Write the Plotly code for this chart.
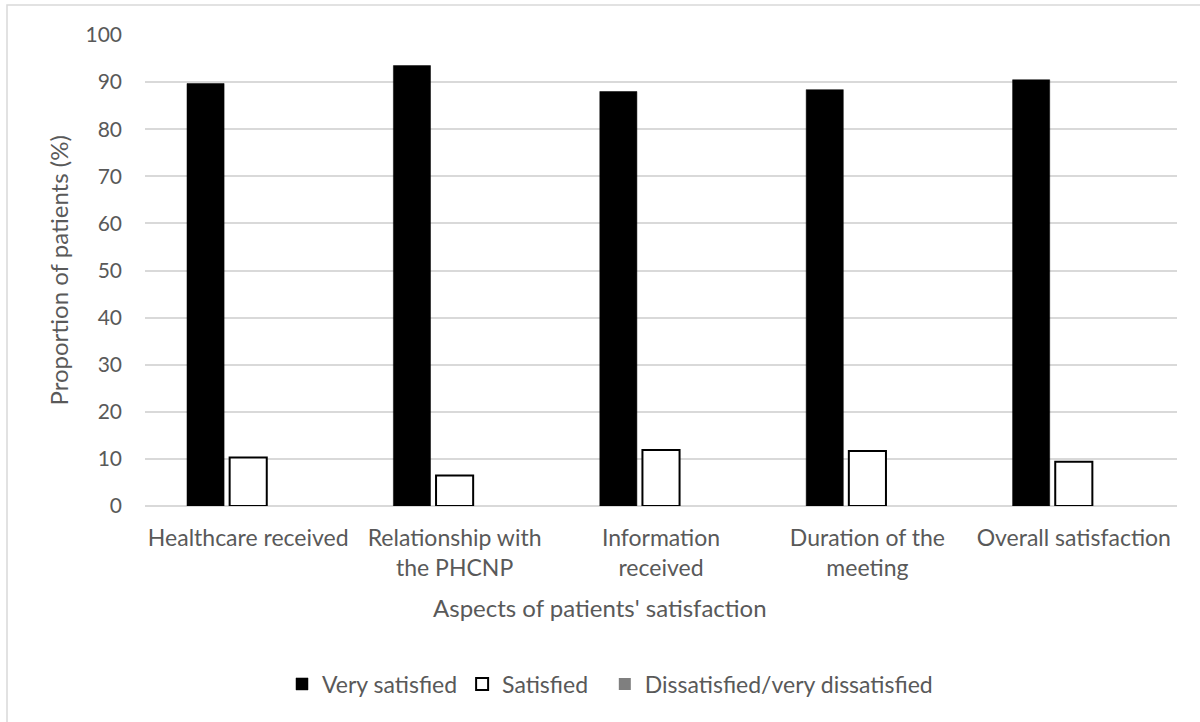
import plotly.graph_objects as go

categories = ["Healthcare received", "Relationship with<br>the PHCNP", "Information<br>received",
              "Duration of the<br>meeting", "Overall satisfaction"]
very_satisfied = [89.7, 93.5, 88.0, 88.4, 90.5]
satisfied = [10.3, 6.5, 11.9, 11.7, 9.4]
dissatisfied = [0, 0, 0, 0, 0]
y_ticks = [0, 10, 20, 30, 40, 50, 60, 70, 80, 90, 100]

W, H = 1200, 722
L, R, T, B = 145, 23, 35, 216
pw, ph = W - L - R, H - T - B

def px_x(p):
    return (p - L) / pw

def px_y(p):
    return (H - B - p) / ph

txt = "#595959"
font = "Lato, 'Open Sans', sans-serif"

fig = go.Figure()
fig.add_trace(go.Bar(x=categories, y=very_satisfied, name="Very satisfied",
                     marker=dict(color="#000000", line=dict(color="#000000", width=0.5))))
fig.add_trace(go.Bar(x=categories, y=satisfied, name="Satisfied  ",
                     marker=dict(color="#ffffff", line=dict(color="#000000", width=2))))
fig.add_trace(go.Bar(x=categories, y=dissatisfied, name="Dissatisfied/very dissatisfied",
                     marker=dict(color="#7f7f7f", line=dict(width=0))))

fig.update_layout(
    width=W, height=H,
    margin=dict(l=L, r=R, t=T, b=B, pad=0),
    paper_bgcolor="white", plot_bgcolor="white",
    barmode="group", bargap=0.38, bargroupgap=0.13,
    font=dict(family=font, color=txt, size=20),
    showlegend=True,
    legend=dict(orientation="h", x=px_x(610), xanchor="center", y=px_y(684), yanchor="middle",
                font=dict(size=23, color=txt), traceorder="normal", itemwidth=30,
                bgcolor="rgba(0,0,0,0)"),
    xaxis=dict(showgrid=False, showline=False, ticks="", tickfont=dict(size=23, color=txt),
               ticklabelstandoff=16),
    yaxis=dict(range=[0, 100], tickvals=y_ticks, showgrid=True, gridcolor="#d9d9d9", gridwidth=1.5,
               zeroline=True, zerolinecolor="#d9d9d9", zerolinewidth=1.5, showline=False, ticks="",
               tickfont=dict(size=21, color=txt), ticklabelstandoff=22),
    shapes=[dict(type="rect", xref="paper", yref="paper",
                 x0=px_x(7), x1=px_x(1205), y0=px_y(730), y1=px_y(5),
                 line=dict(color="#d9d9d9", width=1.5), fillcolor="rgba(0,0,0,0)", layer="below")],
    annotations=[
        dict(text="Proportion of patients (%)", textangle=-90, xref="paper", yref="paper",
             x=px_x(58), y=0.5, xanchor="center", yanchor="middle", showarrow=False,
             font=dict(size=24, color=txt)),
        dict(text="Aspects of patients' satisfaction", xref="paper", yref="paper",
             x=px_x(600), y=px_y(607), xanchor="center", yanchor="middle", showarrow=False,
             font=dict(size=24, color=txt)),
    ],
)

fig.write_html("out.html")
